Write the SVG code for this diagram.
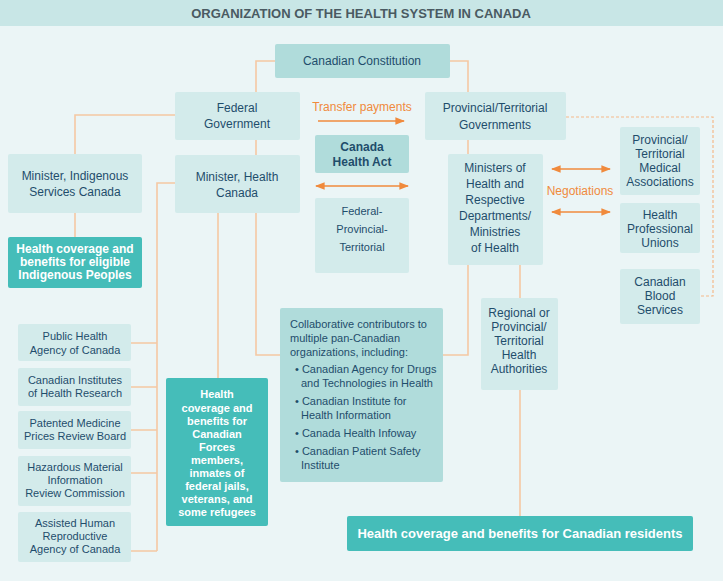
<svg xmlns="http://www.w3.org/2000/svg" width="723" height="581" viewBox="0 0 723 581">
<style>
text{font-family:"Liberation Sans",Arial,sans-serif;font-size:12px;fill:#1f4d6b;text-anchor:middle}
.b{fill:#d3ebeb}
.d{fill:#b0dcdb}
.t{fill:#45bdb9}
.w{fill:#fff;font-weight:bold}
.bold{font-weight:bold}
.ln{fill:none;stroke:#f5c8a3;stroke-width:1.6}
.ar{stroke:#f08a3c;stroke-width:1.6;fill:none}
.or{fill:#f08a3c}
.l{text-anchor:start}
</style>
<defs>
<marker id="ah" viewBox="0 0 10 10" refX="9" refY="5" markerWidth="6" markerHeight="6" orient="auto-start-reverse"><path d="M0,1 L10,5 L0,9 z" fill="#f08a3c"/></marker>
</defs>
<rect width="723" height="581" fill="#ebf5f6"/>
<rect width="723" height="26" fill="#c8e6e6"/>
<text x="361" y="18" style="font-size:13px;font-weight:bold;fill:#4a5a62">ORGANIZATION OF THE HEALTH SYSTEM IN CANADA</text>
<g id="connectors">
<path class="ln" d="M275,61 H256 V92 M450,61 H468 V92"/>
<path class="ln" d="M175,115 H75 V154 M75,213 V237"/>
<path class="ln" d="M256,140 V155 M256,213 V355 H280"/>
<path class="ln" d="M218,213 V378"/>
<path class="ln" d="M175,183 H157 V551 M131,343 H157 M131,387 H157 M131,430 H157 M131,473 H157 M131,551 H157"/>
<path class="ln" d="M468,140 V154 M468,265 V355 H443"/>
<path class="ln" d="M520,265 V298 M520,390 V516"/>
<path d="M566,117 H713 V296 H700" fill="none" stroke="#f5b98a" stroke-width="1.2" stroke-dasharray="3,2"/>
<path class="ar" d="M318,121 H404" marker-end="url(#ah)"/>
<path class="ar" d="M316,186 H408" marker-start="url(#ah)" marker-end="url(#ah)"/>
<path class="ar" d="M552,169 H610" marker-start="url(#ah)" marker-end="url(#ah)"/>
<path class="ar" d="M552,212 H610" marker-start="url(#ah)" marker-end="url(#ah)"/>
<text x="362" y="111" class="or">Transfer payments</text>
<text x="580" y="195" class="or">Negotiations</text>
</g>
<g id="constitution"><rect class="d" x="275" y="44" width="175" height="34" rx="2"/><text x="362" y="65">Canadian Constitution</text></g>
<g id="federal"><rect class="b" x="175" y="92" width="125" height="48" rx="2"/><text x="237" y="112">Federal</text><text x="237" y="128">Government</text></g>
<g id="provincial"><rect class="b" x="425" y="92" width="141" height="48" rx="2"/><text x="495" y="112">Provincial/Territorial</text><text x="495" y="129">Governments</text></g>
<g id="cha"><rect class="d" x="315" y="135" width="94" height="38" rx="2"/><text x="362" y="151" class="bold">Canada</text><text x="362" y="166" class="bold">Health Act</text></g>
<g id="fpt"><rect class="b" x="315" y="198" width="94" height="75" rx="2"/><text x="362" y="215" style="font-size:11px">Federal-</text><text x="362" y="233" style="font-size:11px">Provincial-</text><text x="362" y="251" style="font-size:11px">Territorial</text><text x="362" y="251" style="font-size:11px" dy="0" visibility="hidden">.</text><text x="362" y="251" style="font-size:11px" opacity="0">.</text><text x="362" y="251" style="font-size:11px" dy="0"></text><text x="362" y="251" style="font-size:11px" dy="0"></text><text x="362" y="251" style="font-size:11px" dy="0"></text></g>
<g id="fpt2"><text x="362" y="251" style="font-size:11px" opacity="0"></text></g>
<g id="misc"><text x="362" y="251" style="font-size:11px" opacity="0"></text></g>
<g id="fptlines"><text x="362" y="251" style="font-size:11px"></text></g>
<g id="fptrest"><text x="362" y="251" style="font-size:11px" opacity="0"></text></g>
<g id="fptb"><text x="362" y="251" style="font-size:11px" opacity="0"></text><text x="362" y="251" style="font-size:11px"></text></g>
<g id="fptlast"><text x="362" y="251" style="font-size:11px"></text><text x="362" y="251" style="font-size:11px"></text></g>
<g id="fptconf"><text x="362" y="251" style="font-size:11px"></text></g>
<g id="fptc"><text x="362" y="251" style="font-size:11px"></text><text x="362" y="251" style="font-size:11px"></text></g>
<g id="fpttext"><text x="362" y="251" style="font-size:11px"></text></g>
<g id="fptend"><text x="362" y="251" style="font-size:11px"></text></g>
<g id="fptfin"><text x="362" y="251" style="font-size:11px"></text></g>
<g id="fptconf2"><text x="362" y="251" style="font-size:11px"></text></g>
<g id="fptconf3"><text x="362" y="251" style="font-size:11px"></text></g>
<g id="fptconf4"><text x="362" y="251" style="font-size:11px"></text></g>
<g id="fptconf5"><text x="362" y="251" style="font-size:11px"></text></g>
<g id="minind"><rect class="b" x="8" y="154" width="134" height="59" rx="2"/><text x="75" y="180">Minister, Indigenous</text><text x="75" y="196">Services Canada</text></g>
<g id="indcov"><rect class="t" x="8" y="237" width="134" height="51" rx="2"/><text x="75" y="253" class="w">Health coverage and</text><text x="75" y="266" class="w">benefits for eligible</text><text x="75" y="279" class="w">Indigenous Peoples</text></g>
<g id="minhc"><rect class="b" x="175" y="155" width="125" height="58" rx="2"/><text x="237" y="181">Minister, Health</text><text x="237" y="197">Canada</text></g>
<g id="ministers"><rect class="b" x="448" y="154" width="95" height="111" rx="2"/><text x="495" y="172">Ministers of</text><text x="495" y="188">Health and</text><text x="495" y="204">Respective</text><text x="495" y="220">Departments/</text><text x="495" y="236">Ministries</text><text x="495" y="252">of Health</text></g>
<g id="pma"><rect class="b" x="620" y="127" width="80" height="68" rx="2"/><text x="660" y="144">Provincial/</text><text x="660" y="158">Territorial</text><text x="660" y="172">Medical</text><text x="660" y="186">Associations</text></g>
<g id="hpu"><rect class="b" x="620" y="203" width="80" height="50" rx="2"/><text x="660" y="219">Health</text><text x="660" y="233">Professional</text><text x="660" y="247">Unions</text></g>
<g id="cbs"><rect class="b" x="620" y="269" width="80" height="55" rx="2"/><text x="660" y="286">Canadian</text><text x="660" y="300">Blood</text><text x="660" y="314">Services</text></g>
<g id="regional"><rect class="b" x="481" y="298" width="77" height="92" rx="2"/><text x="519" y="317">Regional or</text><text x="519" y="331">Provincial/</text><text x="519" y="345">Territorial</text><text x="519" y="359">Health</text><text x="519" y="373">Authorities</text></g>
<g id="collab"><rect class="d" x="280" y="308" width="163" height="174" rx="2"/>
<text x="290" y="328" class="l" style="font-size:11px">Collaborative contributors to</text>
<text x="290" y="342" class="l" style="font-size:11px">multiple pan-Canadian</text>
<text x="290" y="356" class="l" style="font-size:11px">organizations, including:</text>
<text x="295" y="373" class="l" style="font-size:11px">• Canadian Agency for Drugs</text>
<text x="301" y="387" class="l" style="font-size:11px">and Technologies in Health</text>
<text x="295" y="405" class="l" style="font-size:11px">• Canadian Institute for</text>
<text x="301" y="419" class="l" style="font-size:11px">Health Information</text>
<text x="295" y="437" class="l" style="font-size:11px">• Canada Health Infoway</text>
<text x="295" y="455" class="l" style="font-size:11px">• Canadian Patient Safety</text>
<text x="301" y="469" class="l" style="font-size:11px">Institute</text></g>
<g id="forces"><rect class="t" x="166" y="378" width="102" height="148" rx="2"/>
<text x="217" y="398" class="w" style="font-size:11px">Health</text><text x="217" y="412" class="w" style="font-size:11px">coverage and</text><text x="217" y="425" class="w" style="font-size:11px">benefits for</text><text x="217" y="438" class="w" style="font-size:11px">Canadian</text><text x="217" y="451" class="w" style="font-size:11px">Forces</text><text x="217" y="464" class="w" style="font-size:11px">members,</text><text x="217" y="477" class="w" style="font-size:11px">inmates of</text><text x="217" y="490" class="w" style="font-size:11px">federal jails,</text><text x="217" y="503" class="w" style="font-size:11px">veterans, and</text><text x="217" y="516" class="w" style="font-size:11px">some refugees</text></g>
<g id="phac"><rect class="b" x="18" y="324" width="113" height="37" rx="2"/><text x="75" y="340" style="font-size:11px">Public Health</text><text x="75" y="354" style="font-size:11px">Agency of Canada</text></g>
<g id="cihr"><rect class="b" x="18" y="368" width="113" height="38" rx="2"/><text x="75" y="384" style="font-size:11px">Canadian Institutes</text><text x="75" y="397" style="font-size:11px">of Health Research</text></g>
<g id="pmprb"><rect class="b" x="18" y="411" width="113" height="38" rx="2"/><text x="75" y="427" style="font-size:11px">Patented Medicine</text><text x="75" y="440" style="font-size:11px">Prices Review Board</text></g>
<g id="hmirc"><rect class="b" x="18" y="456" width="113" height="50" rx="2"/><text x="75" y="471" style="font-size:11px">Hazardous Material</text><text x="75" y="484" style="font-size:11px">Information</text><text x="75" y="497" style="font-size:11px">Review Commission</text></g>
<g id="ahrc"><rect class="b" x="18" y="512" width="113" height="50" rx="2"/><text x="75" y="527" style="font-size:11px">Assisted Human</text><text x="75" y="540" style="font-size:11px">Reproductive</text><text x="75" y="553" style="font-size:11px">Agency of Canada</text></g>
<g id="residents"><rect class="t" x="347" y="516" width="346" height="35" rx="2"/><text x="520" y="538" class="w" style="font-size:13px">Health coverage and benefits for Canadian residents</text></g>
</svg>
